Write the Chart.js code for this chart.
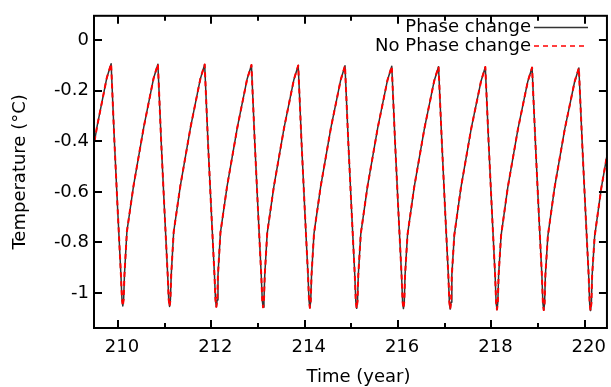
<!DOCTYPE html>
<html><head><meta charset="utf-8">
<script src="https://cdn.jsdelivr.net/npm/chart.js@4/dist/chart.umd.min.js"></script>
<style>html,body{margin:0;padding:0;background:#fff}#wrap{width:611px;height:387px}</style>
</head><body><div id="wrap"><canvas id="c" width="611" height="387"></canvas></div>
<script>
const timeYears = [
 209.189, 209.331, 209.551, 209.761,
 209.853, 209.923, 209.993, 210.063, 210.085, 210.103, 210.121, 210.138, 210.191, 210.333, 210.553, 210.763,
 210.855, 210.925, 210.995, 211.065, 211.087, 211.105, 211.123, 211.140, 211.193, 211.335, 211.555, 211.765,
 211.857, 211.927, 211.997, 212.067, 212.089, 212.107, 212.125, 212.142, 212.195, 212.337, 212.557, 212.767,
 212.859, 212.929, 212.999, 213.069, 213.091, 213.109, 213.127, 213.144, 213.197, 213.339, 213.559, 213.769,
 213.861, 213.931, 214.001, 214.071, 214.093, 214.111, 214.129, 214.146, 214.199, 214.341, 214.561, 214.771,
 214.863, 214.933, 215.003, 215.073, 215.095, 215.113, 215.131, 215.148, 215.201, 215.343, 215.563, 215.773,
 215.865, 215.935, 216.005, 216.075, 216.097, 216.115, 216.133, 216.150, 216.203, 216.345, 216.565, 216.775,
 216.867, 216.937, 217.007, 217.077, 217.099, 217.117, 217.135, 217.152, 217.205, 217.347, 217.567, 217.777,
 217.869, 217.939, 218.009, 218.079, 218.101, 218.119, 218.137, 218.154, 218.207, 218.349, 218.569, 218.779,
 218.871, 218.941, 219.011, 219.081, 219.103, 219.121, 219.139, 219.156, 219.209, 219.351, 219.571, 219.781,
 219.873, 219.943, 220.013, 220.083, 220.105, 220.123, 220.141, 220.158, 220.211, 220.353, 220.573
];
const tempPhaseChange = [
 -0.755, -0.575, -0.342, -0.148,
 -0.093, -0.40, -0.67, -0.93, -1.025, -1.052, -1.025, -0.93, -0.757, -0.576, -0.343, -0.150,
 -0.095, -0.40, -0.67, -0.93, -1.027, -1.054, -1.027, -0.93, -0.759, -0.577, -0.344, -0.152,
 -0.096, -0.40, -0.67, -0.93, -1.028, -1.055, -1.028, -0.93, -0.761, -0.578, -0.345, -0.153,
 -0.098, -0.40, -0.67, -0.93, -1.030, -1.057, -1.030, -0.93, -0.763, -0.579, -0.346, -0.155,
 -0.100, -0.40, -0.67, -0.93, -1.032, -1.059, -1.032, -0.93, -0.765, -0.580, -0.347, -0.157,
 -0.101, -0.40, -0.67, -0.93, -1.034, -1.061, -1.034, -0.93, -0.767, -0.581, -0.348, -0.158,
 -0.103, -0.40, -0.67, -0.93, -1.035, -1.062, -1.035, -0.93, -0.769, -0.582, -0.349, -0.160,
 -0.105, -0.40, -0.67, -0.93, -1.037, -1.064, -1.037, -0.93, -0.771, -0.583, -0.350, -0.162,
 -0.106, -0.40, -0.67, -0.93, -1.039, -1.066, -1.039, -0.93, -0.773, -0.584, -0.351, -0.163,
 -0.108, -0.40, -0.67, -0.93, -1.041, -1.068, -1.041, -0.93, -0.775, -0.585, -0.352, -0.165,
 -0.110, -0.40, -0.67, -0.93, -1.043, -1.070, -1.043, -0.93, -0.777, -0.586, -0.353
];
const tempNoPhaseChange = [
 -0.755, -0.575, -0.342, -0.148,
 -0.093, -0.40, -0.67, -0.93, -1.025, -1.052, -1.025, -0.93, -0.757, -0.576, -0.343, -0.150,
 -0.095, -0.40, -0.67, -0.93, -1.027, -1.054, -1.027, -0.93, -0.759, -0.577, -0.344, -0.152,
 -0.096, -0.40, -0.67, -0.93, -1.028, -1.055, -1.028, -0.93, -0.761, -0.578, -0.345, -0.153,
 -0.098, -0.40, -0.67, -0.93, -1.030, -1.057, -1.030, -0.93, -0.763, -0.579, -0.346, -0.155,
 -0.100, -0.40, -0.67, -0.93, -1.032, -1.059, -1.032, -0.93, -0.765, -0.580, -0.347, -0.157,
 -0.101, -0.40, -0.67, -0.93, -1.034, -1.061, -1.034, -0.93, -0.767, -0.581, -0.348, -0.158,
 -0.103, -0.40, -0.67, -0.93, -1.035, -1.062, -1.035, -0.93, -0.769, -0.582, -0.349, -0.160,
 -0.105, -0.40, -0.67, -0.93, -1.037, -1.064, -1.037, -0.93, -0.771, -0.583, -0.350, -0.162,
 -0.106, -0.40, -0.67, -0.93, -1.039, -1.066, -1.039, -0.93, -0.773, -0.584, -0.351, -0.163,
 -0.108, -0.40, -0.67, -0.93, -1.041, -1.068, -1.041, -0.93, -0.775, -0.585, -0.352, -0.165,
 -0.110, -0.40, -0.67, -0.93, -1.043, -1.070, -1.043, -0.93, -0.777, -0.586, -0.353
];
const xMajorTicks = [210, 212, 214, 216, 218, 220];
const xMinorTicks = [211, 213, 215, 217, 219];
const yTicks = [0, -0.2, -0.4, -0.6, -0.8, -1];
const seriesNames = ['Phase change', 'No Phase change'];
const xTitle = 'Time (year)';
const yTitle = 'Temperature (°C)';

const FONT = 'DejaVu Sans';
Chart.defaults.font.family = FONT;
Chart.defaults.font.size = 18;
Chart.defaults.color = '#000';

const toXY = ys => timeYears.map((t, i) => ({x: t, y: ys[i]}));

const frameTicksLegend = {
  id: 'frameTicksLegend',
  afterDraw(chart) {
    const ctx = chart.ctx, ca = chart.chartArea;
    const xs = chart.scales.x, ys = chart.scales.y;
    ctx.save();
    ctx.strokeStyle = '#000';
    ctx.lineWidth = 2;
    ctx.strokeRect(ca.left, ca.top, ca.right - ca.left, ca.bottom - ca.top);
    ctx.beginPath();
    const xt = (v, len) => {
      const p = Math.round(xs.getPixelForValue(v));
      ctx.moveTo(p, ca.bottom); ctx.lineTo(p, ca.bottom - len);
      ctx.moveTo(p, ca.top); ctx.lineTo(p, ca.top + len);
    };
    xMajorTicks.forEach(v => xt(v, 8));
    xMinorTicks.forEach(v => xt(v, 5));
    yTicks.forEach(v => {
      const p = Math.round(ys.getPixelForValue(v));
      ctx.moveTo(ca.left, p); ctx.lineTo(ca.left + 8, p);
      ctx.moveTo(ca.right, p); ctx.lineTo(ca.right - 8, p);
    });
    ctx.stroke();
    ctx.font = '18px "' + FONT + '"';
    ctx.fillStyle = '#000';
    ctx.textAlign = 'center';
    ctx.textBaseline = 'middle';
    ctx.fillText(xTitle, (ca.left + ca.right) / 2 + 8, 377);
    ctx.textAlign = 'right';
    const ds = chart.data.datasets;
    const tx = 531, lx0 = 534, lx1 = 588;
    [27.5, 46].forEach((yy, i) => {
      ctx.fillText(ds[i].label, tx, yy);
      ctx.beginPath();
      ctx.strokeStyle = ds[i].borderColor;
      ctx.lineWidth = i === 0 ? 1.5 : 1.6;
      ctx.setLineDash(ds[i].borderDash || []);
      ctx.moveTo(lx0, yy); ctx.lineTo(lx1, yy);
      ctx.stroke();
      ctx.setLineDash([]);
    });
    ctx.restore();
  }
};

new Chart(document.getElementById('c'), {
  type: 'line',
  data: {
    datasets: [
      {label: seriesNames[0], data: toXY(tempPhaseChange), borderColor: '#333333', borderWidth: 1.5,
       borderJoinStyle: 'round', pointRadius: 0, tension: 0, fill: false, order: 1},
      {label: seriesNames[1], data: toXY(tempNoPhaseChange), borderColor: '#ff0000', borderWidth: 2,
       borderJoinStyle: 'round', borderDash: [5, 4], pointRadius: 0, tension: 0, fill: false, order: 0}
    ]
  },
  options: {
    responsive: false,
    animation: false,
    events: [],
    layout: {padding: {top: 10, right: 1, left: 0, bottom: 0}},
    plugins: {legend: {display: false}, tooltip: {enabled: false}},
    scales: {
      x: {
        type: 'linear', min: 209.486, max: 220.475,
        afterBuildTicks: s => { s.ticks = xMajorTicks.map(v => ({value: v})); },
        afterFit: s => { s.height = 59; },
        ticks: {padding: 9, labelOffset: 4, maxRotation: 0, autoSkip: false, callback: v => String(v)},
        grid: {display: false, drawTicks: false},
        border: {display: false},
        title: {display: false, text: xTitle}
      },
      y: {
        type: 'linear', min: -1.139, max: 0.097,
        afterBuildTicks: s => { s.ticks = yTicks.map(v => ({value: v})); },
        afterFit: s => { s.width = 94; },
        ticks: {padding: 5, autoSkip: false, callback: v => String(Math.round(v * 10) / 10)},
        grid: {display: false, drawTicks: false},
        border: {display: false},
        title: {display: true, text: yTitle, padding: {top: 10, bottom: 0}}
      }
    }
  },
  plugins: [frameTicksLegend]
});
</script>
</body></html>
